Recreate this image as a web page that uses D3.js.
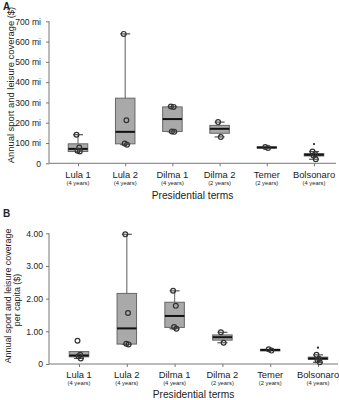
<!DOCTYPE html>
<html><head><meta charset="utf-8">
<script src="https://cdn.jsdelivr.net/npm/d3@7"></script>
<style>body{margin:0;background:#fff}svg{display:block}text{font-family:"Liberation Sans",Arial,sans-serif;fill:#222}</style>
</head><body><svg id="c" width="339" height="400"></svg>
<script>
const categories = ["Lula 1","Lula 2","Dilma 1","Dilma 2","Temer","Bolsonaro"];
const terms = ["(4 years)","(4 years)","(4 years)","(2 years)","(2 years)","(4 years)"];

const ticksA = [0,100,200,300,400,500,600,700];
const minA = [58, 92, 155, 130, 76, 20];
const q1A  = [58, 96, 157, 148, 75, 36];
const medA = [71, 155, 218, 170, 78, 42];
const q3A  = [96, 321, 278, 187, 81, 48];
const maxA = [141, 638, 280, 203, 80, 58];
const pointsA = [[141,78,62,58],[638,212,97,92],[280,278,157,155],[203,130],[80,76],[58,45,38,20]];
const outliersA = [[],[],[],[],[],[95]];

const ticksB = [0,1,2,3,4];
const minB = [0.17, 0.60, 1.08, 0.65, 0.41, 0.05];
const q1B  = [0.22, 0.61, 1.12, 0.73, 0.40, 0.14];
const medB = [0.26, 1.09, 1.47, 0.82, 0.43, 0.17];
const q3B  = [0.38, 2.16, 1.89, 0.89, 0.45, 0.21];
const maxB = [0.38, 3.97, 2.24, 0.97, 0.45, 0.28];
const pointsB = [[0.71,0.28,0.24,0.17],[3.97,1.56,0.62,0.60],[2.24,1.78,1.13,1.08],[0.97,0.65],[0.45,0.41],[0.28,0.15,0.12,0.05]];
const outliersB = [[],[],[],[],[],[0.50]];

const svg = d3.select("#c");
const jit = [-1.5, 1.2, -0.5, 1.8];

function panel(cfg){
  const g = svg.append("g");
  const x = d3.scalePoint().domain(categories).range(cfg.xr);
  const y = d3.scaleLinear().domain(cfg.yd).range(cfg.yr);
  // y axis
  const ya = d3.axisLeft(y).tickValues(cfg.ticks).tickSize(3).tickPadding(cfg.tp).tickFormat(cfg.fmt);
  const yg = g.append("g").attr("transform",`translate(${cfg.x0},0)`).call(ya);
  yg.select(".domain").attr("stroke","#777").attr("d",`M0,${cfg.yr[0]}V${cfg.yr[1]}`);
  yg.selectAll(".tick line").attr("stroke","#777");
  yg.selectAll(".tick text").attr("font-size","8.6px").attr("fill","#222").style("font-family","Liberation Sans, Arial, sans-serif");
  // x axis
  const xa = d3.axisBottom(x).tickSize(3).tickFormat("");
  const xg = g.append("g").attr("transform",`translate(0,${cfg.yr[0]})`).call(xa);
  xg.select(".domain").attr("stroke","#777").attr("d",`M${cfg.x0},0H${cfg.x1}`);
  xg.selectAll(".tick line").attr("stroke","#777");
  // category labels
  categories.forEach((c,i)=>{
    g.append("text").attr("x",x(c)).attr("y",cfg.yr[0]+14.3).attr("text-anchor","middle").attr("font-size","9.4px").text(c);
    g.append("text").attr("x",x(c)).attr("y",cfg.yr[0]+21.3).attr("text-anchor","middle").attr("font-size","5.8px").text(terms[i]);
  });
  g.append("text").attr("x",(cfg.x0+cfg.x1)/2).attr("y",cfg.yr[0]+cfg.tly).attr("text-anchor","middle").attr("font-size","10.2px").text("Presidential terms");
  // boxes
  const bw = 19.5, cw = 10;
  categories.forEach((c,i)=>{
    const cx = x(c);
    const lo = cfg.mn[i], hi = cfg.mx[i];
    if (hi > cfg.q3[i]) {
      g.append("line").attr("x1",cx).attr("x2",cx).attr("y1",y(cfg.q3[i])).attr("y2",y(hi)).attr("stroke","#777").attr("stroke-width",1.2);
      g.append("line").attr("x1",cx-cw/2).attr("x2",cx+cw/2).attr("y1",y(hi)).attr("y2",y(hi)).attr("stroke","#555").attr("stroke-width",1.2);
    }
    if (lo < cfg.q1[i]) {
      g.append("line").attr("x1",cx).attr("x2",cx).attr("y1",y(cfg.q1[i])).attr("y2",y(lo)).attr("stroke","#777").attr("stroke-width",1.2);
      g.append("line").attr("x1",cx-cw/2).attr("x2",cx+cw/2).attr("y1",y(lo)).attr("y2",y(lo)).attr("stroke","#555").attr("stroke-width",1.2);
    }
    g.append("rect").attr("x",cx-bw/2).attr("width",bw)
      .attr("y",y(cfg.q3[i])).attr("height",Math.max(1,y(cfg.q1[i])-y(cfg.q3[i])))
      .attr("fill","#a9a9a9").attr("stroke","#666").attr("stroke-width",1);
    g.append("line").attr("x1",cx-bw/2).attr("x2",cx+bw/2).attr("y1",y(cfg.md[i])).attr("y2",y(cfg.md[i])).attr("stroke","#111").attr("stroke-width",2);
    cfg.pts[i].forEach((v,j)=>{
      g.append("circle").attr("cx",cx+jit[j%jit.length]).attr("cy",y(v)).attr("r",2.4)
        .attr("fill","none").attr("stroke","#333").attr("stroke-width",1.2);
    });
    cfg.out[i].forEach(v=>{
      g.append("circle").attr("cx",cx).attr("cy",y(v)).attr("r",1.1).attr("fill","#222");
    });
  });
  // panel letter
  svg.append("text").attr("x",cfg.lx).attr("y",cfg.ly).attr("font-size","10px").attr("font-weight","bold").text(cfg.letter);
  // y label
  cfg.ylab.forEach(l=>{
    svg.append("text").attr("transform",`translate(${l.x},${l.y}) rotate(-90)`).attr("text-anchor","middle")
      .attr("font-size",cfg.ylfs).text(l.t);
  });
}

panel({letter:"A", lx:3, ly:10, xr:[78,314], x0:49, x1:336, yd:[0,700], yr:[163.3,21.3], ticks:ticksA, tp:5, tly:35.5,
  fmt:d=> d===0 ? "0" : d+" mi", ylfs:"9.4px",
  mn:minA,q1:q1A,md:medA,q3:q3A,mx:maxA,pts:pointsA,out:outliersA,
  ylab:[{x:14,y:85,t:"Annual sport and leisure coverage ($)"}]});

panel({letter:"B", lx:3, ly:217, xr:[79,318], x0:49, x1:338, yd:[0,4], yr:[364,233.3], ticks:ticksB, tp:3, tly:33.5,
  fmt:d=> d===0 ? "0" : d3.format(".2f")(d), ylfs:"8.9px",
  mn:minB,q1:q1B,md:medB,q3:q3B,mx:maxB,pts:pointsB,out:outliersB,
  ylab:[{x:11,y:296,t:"Annual sport and leisure coverage"},{x:19.5,y:300,t:"per capita ($)"}]});
</script></body></html>
